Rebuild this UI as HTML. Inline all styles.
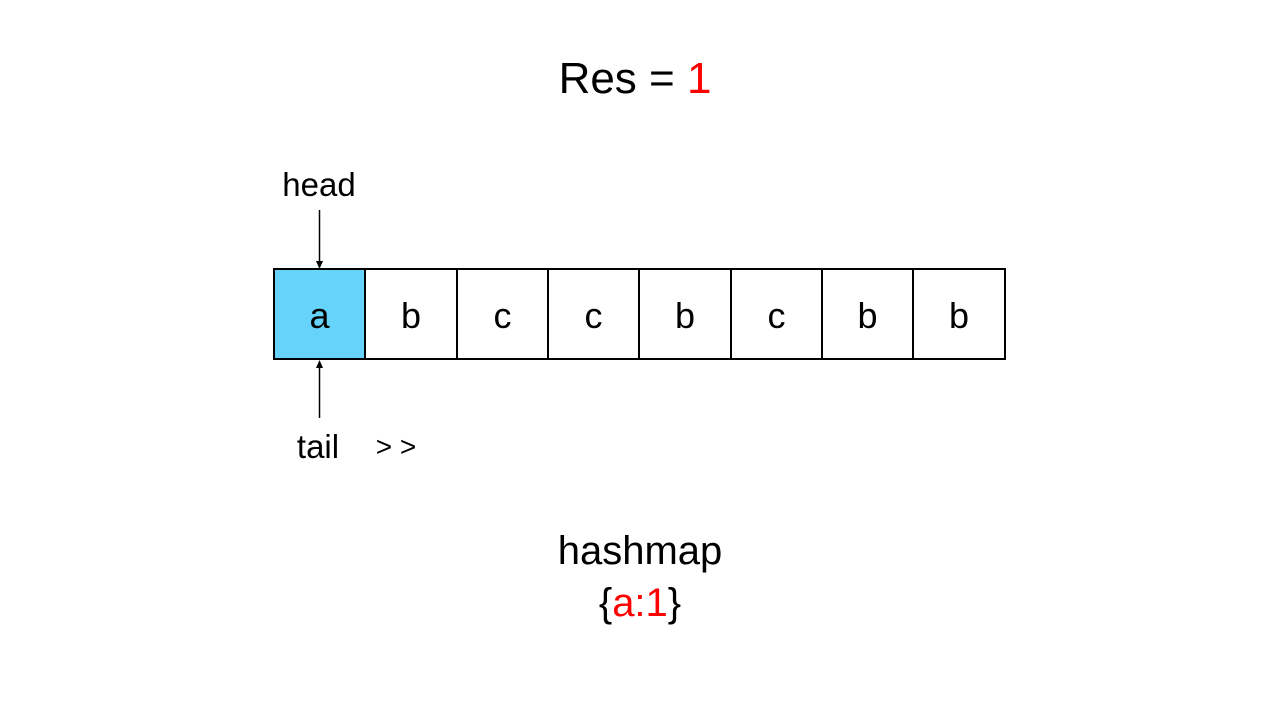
<!DOCTYPE html>
<html><head><meta charset="utf-8"><style>html,body{margin:0;padding:0;background:#fff}</style></head>
<body>
<svg width="1280" height="720" xmlns="http://www.w3.org/2000/svg" font-family="'Liberation Sans', 'DejaVu Sans', sans-serif">
<rect width="1280" height="720" fill="#fff"/>
<text x="635" y="93" font-size="44" text-anchor="middle" fill="#000">Res = <tspan fill="#ff0000">1</tspan></text>
<text x="319" y="196" font-size="33" text-anchor="middle">head</text>
<line x1="319.5" y1="210" x2="319.5" y2="262" stroke="#000" stroke-width="1.5"/>
<polygon points="316,261 323,261 319.5,269" fill="#000"/>
<rect x="274" y="269" width="91" height="90" fill="#66d4fa"/>
<g stroke="#000" stroke-width="2" fill="none">
<rect x="274" y="269" width="731" height="90"/>
<line x1="365" y1="269" x2="365" y2="359"/>
<line x1="457" y1="269" x2="457" y2="359"/>
<line x1="548" y1="269" x2="548" y2="359"/>
<line x1="639" y1="269" x2="639" y2="359"/>
<line x1="731" y1="269" x2="731" y2="359"/>
<line x1="822" y1="269" x2="822" y2="359"/>
<line x1="913" y1="269" x2="913" y2="359"/>
</g>
<g font-size="36" text-anchor="middle">
<text x="319.5" y="328">a</text>
<text x="411" y="328">b</text>
<text x="502.5" y="328">c</text>
<text x="593.5" y="328">c</text>
<text x="685" y="328">b</text>
<text x="776.5" y="328">c</text>
<text x="867.5" y="328">b</text>
<text x="959" y="328">b</text>
</g>
<line x1="319.5" y1="367" x2="319.5" y2="418" stroke="#000" stroke-width="1.5"/>
<polygon points="316,368 323,368 319.5,360" fill="#000"/>
<text x="318" y="458" font-size="33" text-anchor="middle">tail</text>
<text x="396" y="456" font-size="28" text-anchor="middle">&gt; &gt;</text>
<text x="640" y="564" font-size="40" text-anchor="middle">hashmap</text>
<text x="640" y="616" font-size="40" text-anchor="middle">{<tspan fill="#ff0000">a:1</tspan>}</text>
</svg>
</body></html>
